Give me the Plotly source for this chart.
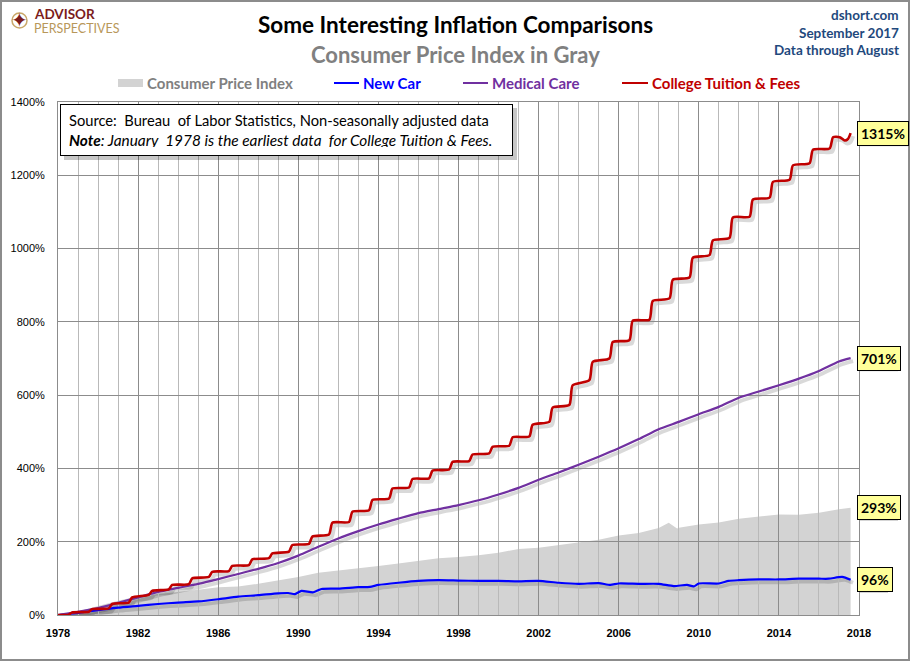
import plotly.graph_objects as go
import pandas as pd

# ---------------- data (percent change since January 1978) ----------------
cpi_dates = ['1978-01-01', '1979-01-01', '1980-01-01', '1981-01-01', '1982-01-01', '1983-01-01',
             '1984-01-01', '1985-01-01', '1986-01-01', '1987-01-01', '1988-01-01', '1989-01-01',
             '1990-01-01', '1991-01-01', '1992-01-01', '1993-01-01', '1994-01-01', '1995-01-01',
             '1996-01-01', '1997-01-01', '1998-01-01', '1999-01-01', '2000-01-01', '2001-01-01',
             '2002-01-01', '2003-01-01', '2004-01-01', '2005-01-01', '2006-01-01', '2007-01-01',
             '2008-01-01', '2008-07-01', '2008-12-01', '2009-01-01', '2010-01-01', '2011-01-01',
             '2012-01-01', '2013-01-01', '2014-01-01', '2015-01-01', '2016-01-01', '2017-01-01',
             '2017-08-01']
cpi_values = [0, 9.3, 24.5, 39.2, 50.9, 56.5, 63.0, 68.8, 75.4, 77.9, 85.1, 93.8, 103.8, 115.4,
              121.0, 128.2, 133.9, 140.5, 147.0, 154.6, 158.6, 162.9, 170.1, 180.2, 183.4, 190.7,
              196.3, 205.1, 217.3, 223.9, 237.7, 252.0, 236.4, 237.8, 246.7, 252.4, 262.7, 268.4,
              274.3, 273.9, 279.1, 288.5, 293.0]

newcar_dates = ['1978-01-01', '1979-01-01', '1980-01-01', '1981-01-01', '1982-01-01', '1983-01-01',
                '1984-01-01', '1985-01-01', '1986-01-01', '1987-01-01', '1988-01-01', '1989-01-01',
                '1989-07-01', '1989-11-01', '1990-03-01', '1990-10-01', '1991-03-01', '1992-01-01',
                '1993-01-01', '1993-08-01', '1994-01-01', '1995-01-01', '1996-01-01', '1997-01-01',
                '1998-01-01', '1999-01-01', '2000-01-01', '2001-01-01', '2002-01-01', '2003-01-01',
                '2004-01-01', '2005-01-01', '2005-08-01', '2006-01-01', '2007-01-01', '2008-01-01',
                '2008-10-01', '2009-06-01', '2009-10-01', '2010-01-01', '2011-01-01', '2011-07-01',
                '2012-01-01', '2013-01-01', '2014-01-01', '2015-01-01', '2016-01-01', '2016-07-01',
                '2017-03-01', '2017-08-01']
newcar_values = [0, 6, 13, 20, 25, 30, 34, 37, 43, 50, 54, 59, 60, 57, 66, 62, 71, 72, 76, 77, 82,
                 88, 93, 95, 94, 93, 93, 92, 93, 88, 85, 87, 82, 86, 85, 85, 79, 82, 78, 86, 86, 93,
                 95, 97, 97, 99, 99, 99, 104, 96]

medical_dates = ['1978-01-01', '1979-01-01', '1980-01-01', '1981-01-01', '1982-01-01', '1983-01-01',
                 '1984-01-01', '1985-01-01', '1986-01-01', '1987-01-01', '1988-01-01', '1989-01-01',
                 '1990-01-01', '1991-01-01', '1992-01-01', '1993-01-01', '1994-01-01', '1995-01-01',
                 '1996-01-01', '1997-01-01', '1998-01-01', '1999-01-01', '2000-01-01', '2001-01-01',
                 '2002-01-01', '2003-01-01', '2004-01-01', '2005-01-01', '2006-01-01', '2007-01-01',
                 '2008-01-01', '2009-01-01', '2010-01-01', '2011-01-01', '2012-01-01', '2013-01-01',
                 '2014-01-01', '2015-01-01', '2016-01-01', '2017-01-01', '2017-08-01']
medical_values = [0, 8.7, 19, 33, 48, 63, 74, 85, 98, 112, 126, 142, 162, 186, 209, 229, 247, 263,
                  278, 289, 300, 313, 329, 347, 369, 389, 410, 432, 455, 480, 507, 527, 548, 568,
                  593, 610, 627, 645, 666, 692, 701]

# College tuition: level at each autumn increase (September) and level the following July
tuition_start_dates = ['1978-01-01', '1978-07-15']
tuition_start_values = [0, 1]
tuition_years = list(range(1978, 2017))
tuition_autumn = [7, 16, 30, 48, 66, 82, 100, 118, 134, 152, 168, 191, 214, 252, 282, 314, 345, 371,
                  394, 418, 438, 459, 485, 519, 566, 627, 691, 745, 803, 857, 915, 975, 1022, 1085,
                  1134, 1182, 1227, 1270, 1304]
tuition_next_july = [9, 18, 34, 55, 70, 84, 104, 120, 136, 155, 173, 194, 220, 254, 286, 318, 348,
                     373, 397, 420, 441, 462, 487, 527, 573, 641, 700, 750, 806, 864, 921, 982, 1029,
                     1087, 1139, 1188, 1233, 1273]
tuition_end_dates = ['2017-01-15', '2017-04-15', '2017-06-15', '2017-08-01']
tuition_end_values = [1304, 1295, 1299, 1315]

end_labels = ['1315%', '701%', '293%', '96%']
end_values = [1315, 701, 293, 96]

x_ticks_start, x_ticks_end = '1978-01-01', '2018-01-01'

# build tuition series from the lists
tu_dates = list(tuition_start_dates)
tu_vals = list(tuition_start_values)
for i, yr in enumerate(tuition_years):
    tu_dates.append(f'{yr}-09-15')
    tu_vals.append(tuition_autumn[i])
    if i < len(tuition_next_july):
        tu_dates.append(f'{yr + 1}-07-15')
        tu_vals.append(tuition_next_july[i])
tu_dates += tuition_end_dates
tu_vals += tuition_end_values

# ---------------- layout geometry ----------------
W, H = 910, 661
L, R, T, B = 58, 51, 102, 46
PW, PH = W - L - R, H - T - B


def px(x):
    return (x - L) / PW


def py(y):
    return (H - B - y) / PH


RED = '#C00000'
PURPLE = '#7030A0'
BLUE = '#0000FF'
GRAYFILL = '#D3D3D3'
NAVY = '#1F497D'
FONT = 'Lato'
SHADOW = 'rgba(0,0,0,0.22)'

fig = go.Figure()

# CPI area (subplot 1)
fig.add_trace(go.Scatter(x=cpi_dates, y=cpi_values, mode='lines', fill='tozeroy',
                         line=dict(width=0), fillcolor=GRAYFILL, xaxis='x', yaxis='y',
                         name='Consumer Price Index', showlegend=False, hoverinfo='skip'))

series = [
    (newcar_dates, newcar_values, BLUE, 2.2, 'New Car'),
    (medical_dates, medical_values, PURPLE, 2.2, 'Medical Care'),
    (tu_dates, tu_vals, RED, 2.6, 'College Tuition & Fees'),
]
# shadows (subplot 2, range shifted a few pixels)
for d, v, c, w, n in series:
    fig.add_trace(go.Scatter(x=d, y=v, mode='lines', line=dict(color='rgba(0,0,0,0.15)', width=w + 1.5,
                                                               shape='spline', smoothing=0.6),
                             xaxis='x2', yaxis='y2', showlegend=False, hoverinfo='skip'))
# main lines (subplot 3)
for d, v, c, w, n in series:
    fig.add_trace(go.Scatter(x=d, y=v, mode='lines', line=dict(color=c, width=w, shape='spline',
                                                               smoothing=0.6),
                             xaxis='x3', yaxis='y3', name=n, showlegend=False))

t0 = pd.Timestamp(x_ticks_start)
t1 = pd.Timestamp(x_ticks_end)
days_per_px = (t1 - t0) / PW
sx = days_per_px * 2.5
units_per_px = 1400 / PH
sy = units_per_px * 3

hidden = dict(visible=False, showgrid=False, zeroline=False)
fig.update_layout(
    width=W, height=H,
    margin=dict(l=L, r=R, t=T, b=B),
    paper_bgcolor='white', plot_bgcolor='rgba(0,0,0,0)',
    showlegend=False,
    xaxis=dict(type='date', range=[t0, t1], domain=[0, 1], anchor='y', **hidden),
    yaxis=dict(range=[0, 1400], domain=[0, 1], anchor='x', **hidden),
    xaxis2=dict(type='date', range=[t0 - sx, t1 - sx], domain=[0, 1], anchor='y2', **hidden),
    yaxis2=dict(range=[sy, 1400 + sy], domain=[0, 1], anchor='x2', **hidden),
    xaxis3=dict(type='date', range=[t0, t1], domain=[0, 1], anchor='y3',
                tick0=x_ticks_start, dtick='M48', tickformat='%Y',
                showgrid=True, gridcolor='#8C8C8C', gridwidth=1,
                minor=dict(dtick='M12', tick0=x_ticks_start, showgrid=True, gridcolor='#B9B9B9',
                           gridwidth=1),
                showline=True, mirror=True, linecolor='#8C8C8C', linewidth=1,
                ticks='', ticklabelstandoff=8,
                tickfont=dict(family='Liberation Sans', size=11, color='black', weight='bold'),
                zeroline=False),
    yaxis3=dict(range=[0, 1400], domain=[0, 1], anchor='x3', dtick=200, tick0=0, ticksuffix='%',
                showgrid=True, gridcolor='#8C8C8C', gridwidth=1,
                showline=True, mirror=True, linecolor='#8C8C8C', linewidth=1,
                ticks='', ticklabelstandoff=10, zeroline=False,
                tickfont=dict(family='Liberation Sans', size=11, color='black')),
)

ann = []
shapes = []

# outer frame
shapes.append(dict(type='rect', xref='paper', yref='paper', x0=px(1), x1=px(909), y0=py(660), y1=py(1),
                   line=dict(color='#8C8C8C', width=2), fillcolor='rgba(0,0,0,0)', layer='above'))

# titles
ann.append(dict(text='<b>Some Interesting Inflation Comparisons</b>', x=px(455), y=py(25),
                xref='paper', yref='paper', showarrow=False, xanchor='center', yanchor='middle',
                font=dict(family=FONT, size=22.5, color='black')))
ann.append(dict(text='<b>Consumer Price Index in Gray</b>', x=px(455), y=py(54),
                xref='paper', yref='paper', showarrow=False, xanchor='center', yanchor='middle',
                font=dict(family=FONT, size=22, color='#808080')))
for txt, yy in [('dshort.com', 15), ('September 2017', 33), ('Data through August', 50)]:
    ann.append(dict(text=f'<b>{txt}</b>', x=px(901), y=py(yy), xref='paper', yref='paper',
                    showarrow=False, xanchor='right', yanchor='middle',
                    font=dict(family=FONT, size=13.5, color=NAVY)))

# logo
shapes.append(dict(type='circle', xref='paper', yref='paper', x0=px(12), x1=px(27), y0=py(28), y1=py(13),
                   line=dict(color='#C9A86A', width=1.5), fillcolor='rgba(0,0,0,0)'))
ann.append(dict(text='✦', x=px(19.5), y=py(20.5), xref='paper', yref='paper', showarrow=False,
                xanchor='center', yanchor='middle',
                font=dict(family='DejaVu Sans', size=20, color='#7B1C1C')))
ann.append(dict(text='<b>ADVISOR</b>', x=px(32), y=py(14), xref='paper', yref='paper', showarrow=False,
                xanchor='left', yanchor='middle', font=dict(family=FONT, size=13.5, color='#7B1C1C')))
ann.append(dict(text='PERSPECTIVES', x=px(32), y=py(29), xref='paper', yref='paper', showarrow=False,
                xanchor='left', yanchor='middle', font=dict(family=FONT, size=12.5, color='#B8975A')))

# manual legend
LEG_Y = 83
shapes.append(dict(type='rect', xref='paper', yref='paper', x0=px(118), x1=px(143), y0=py(87), y1=py(79),
                   line=dict(width=0), fillcolor=GRAYFILL))
ann.append(dict(text='<b>Consumer Price Index</b>', x=px(145), y=py(LEG_Y), xref='paper', yref='paper',
                showarrow=False, xanchor='left', yanchor='middle',
                font=dict(family=FONT, size=15, color='#808080')))
for x0, x1, col, label in [(334, 359, BLUE, 'New Car'), (463, 488, PURPLE, 'Medical Care'),
                           (622, 648, RED, 'College Tuition & Fees')]:
    shapes.append(dict(type='line', xref='paper', yref='paper', x0=px(x0), x1=px(x1), y0=py(LEG_Y),
                       y1=py(LEG_Y), line=dict(color=col, width=2)))
    ann.append(dict(text=f'<b>{label}</b>', x=px(x1 + 2), y=py(LEG_Y), xref='paper', yref='paper',
                    showarrow=False, xanchor='left', yanchor='middle',
                    font=dict(family=FONT, size=15, color=col)))

# source box with shadow (shadow is a plain shape)
BOX_L, BOX_R, BOX_T, BOX_B = 60, 513, 104, 156
shapes.append(dict(type='rect', xref='paper', yref='paper', x0=px(BOX_L + 4), x1=px(BOX_R + 4),
                   y0=py(BOX_B + 4), y1=py(BOX_T + 4),
                   line=dict(width=0), fillcolor=SHADOW, layer='above'))
src_text = ('Source:  Bureau  of Labor Statistics, Non-seasonally adjusted data<br>'
            '<span style="font-size:15.4px"><b><i>Note</i></b><i>: January  1978 is the earliest data  '
            'for College Tuition &amp; Fees.</i></span>')
PAD = 8
ann.append(dict(text=src_text, x=px(BOX_L), y=py(BOX_T), xref='paper', yref='paper', showarrow=False,
                xanchor='left', yanchor='top', align='left', valign='middle',
                width=BOX_R - BOX_L - 2 * PAD - 2, height=BOX_B - BOX_T - 2 * PAD - 2,
                bgcolor='white', bordercolor='black', borderwidth=1, borderpad=PAD,
                font=dict(family=FONT, size=14.7, color='black')))

# end-value labels with shadow shapes
for lab, val in zip(end_labels, end_values):
    wpx = 10 * len(lab) - 2
    shapes.append(dict(type='rect', xref='paper', yref='y3', xsizemode='pixel', ysizemode='pixel',
                       xanchor=px(857), yanchor=val, x0=3, x1=3 + wpx, y0=-13, y1=7,
                       line=dict(width=0), fillcolor=SHADOW, layer='above'))
    ann.append(dict(text=f'<b>{lab}</b>', x=px(857), y=val, xref='paper', yref='y3',
                    showarrow=False, xanchor='left', yanchor='middle',
                    bgcolor='#FFFF99', bordercolor='black', borderwidth=1, borderpad=3,
                    font=dict(family=FONT, size=14, color='black')))

fig.update_layout(annotations=ann, shapes=shapes)
fig.write_html('out.html', config={'displayModeBar': False},
               post_script="document.body.style.margin='0px';")
